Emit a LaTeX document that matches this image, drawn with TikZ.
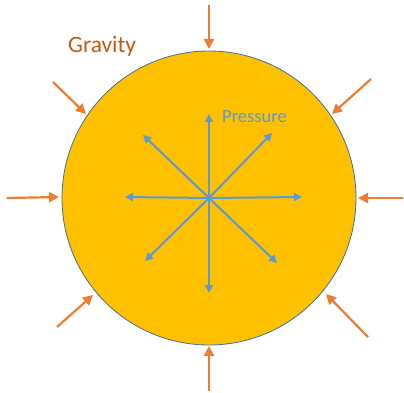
\documentclass[tikz,border=0pt]{standalone}
\usepackage{fontspec}
\setmainfont{Carlito}
\usetikzlibrary{arrows.meta}
\definecolor{gold}{HTML}{FFC000}
\definecolor{rim}{HTML}{41719C}
\definecolor{press}{HTML}{5B9BD5}
\definecolor{grav}{HTML}{ED7D31}
\definecolor{gravtext}{HTML}{C55A11}
\tikzset{
  gravarrow/.style={draw=grav, line width=2.2pt, -{Triangle[length=10pt,width=10pt]}},
  pressarrow/.style={draw=press, line width=2pt, -{Triangle[length=8pt,width=8pt]}},
}
\begin{document}
\begin{tikzpicture}[x=1pt,y=-1pt]
\path[use as bounding box] (0,0) rectangle (404,393);
\node[circle, fill=gold, draw=rim, line width=0.8pt, minimum size=294pt, inner sep=0pt] (star) at (209,198) {};
% pressure
\coordinate (c) at (209,198);
\coordinate (pu) at (209,114);
\coordinate (pd) at (209,293);
\coordinate (pl) at (125,197);
\coordinate (pr) at (302,197);
\coordinate (pur) at (272,133);
\coordinate (pul) at (143,135);
\coordinate (pdl) at (145,261);
\coordinate (pdr) at (277,263);
\foreach \t in {pu,pd,pl,pr,pur,pul,pdl,pdr}{\draw[pressarrow] (c) -- (\t);}
\node[anchor=base west, text=press, font=\fontsize{18.5}{20}\selectfont, inner sep=0pt] (plabel) at (222,123) {Pressure};
% gravity
\coordinate (g1s) at (209,5);   \coordinate (g1e) at (209,49);
\coordinate (g2s) at (209,391); \coordinate (g2e) at (209,346);
\coordinate (g3s) at (7,198);   \coordinate (g3e) at (59,197);
\coordinate (g4s) at (403,198); \coordinate (g4e) at (358,198);
\coordinate (g5s) at (53,82);   \coordinate (g5e) at (86,114);
\coordinate (g6s) at (371,79);  \coordinate (g6e) at (332,114);
\coordinate (g7s) at (368,337); \coordinate (g7e) at (326,294);
\coordinate (g8s) at (57,327);  \coordinate (g8e) at (93,295);
\foreach \i in {1,...,8}{\draw[gravarrow] (g\i s) -- (g\i e);}
\node[anchor=base west, text=gravtext, font=\fontsize{23.5}{25}\selectfont, inner sep=0pt] (glabel) at (68,53) {Gravity};
\end{tikzpicture}
\end{document}
